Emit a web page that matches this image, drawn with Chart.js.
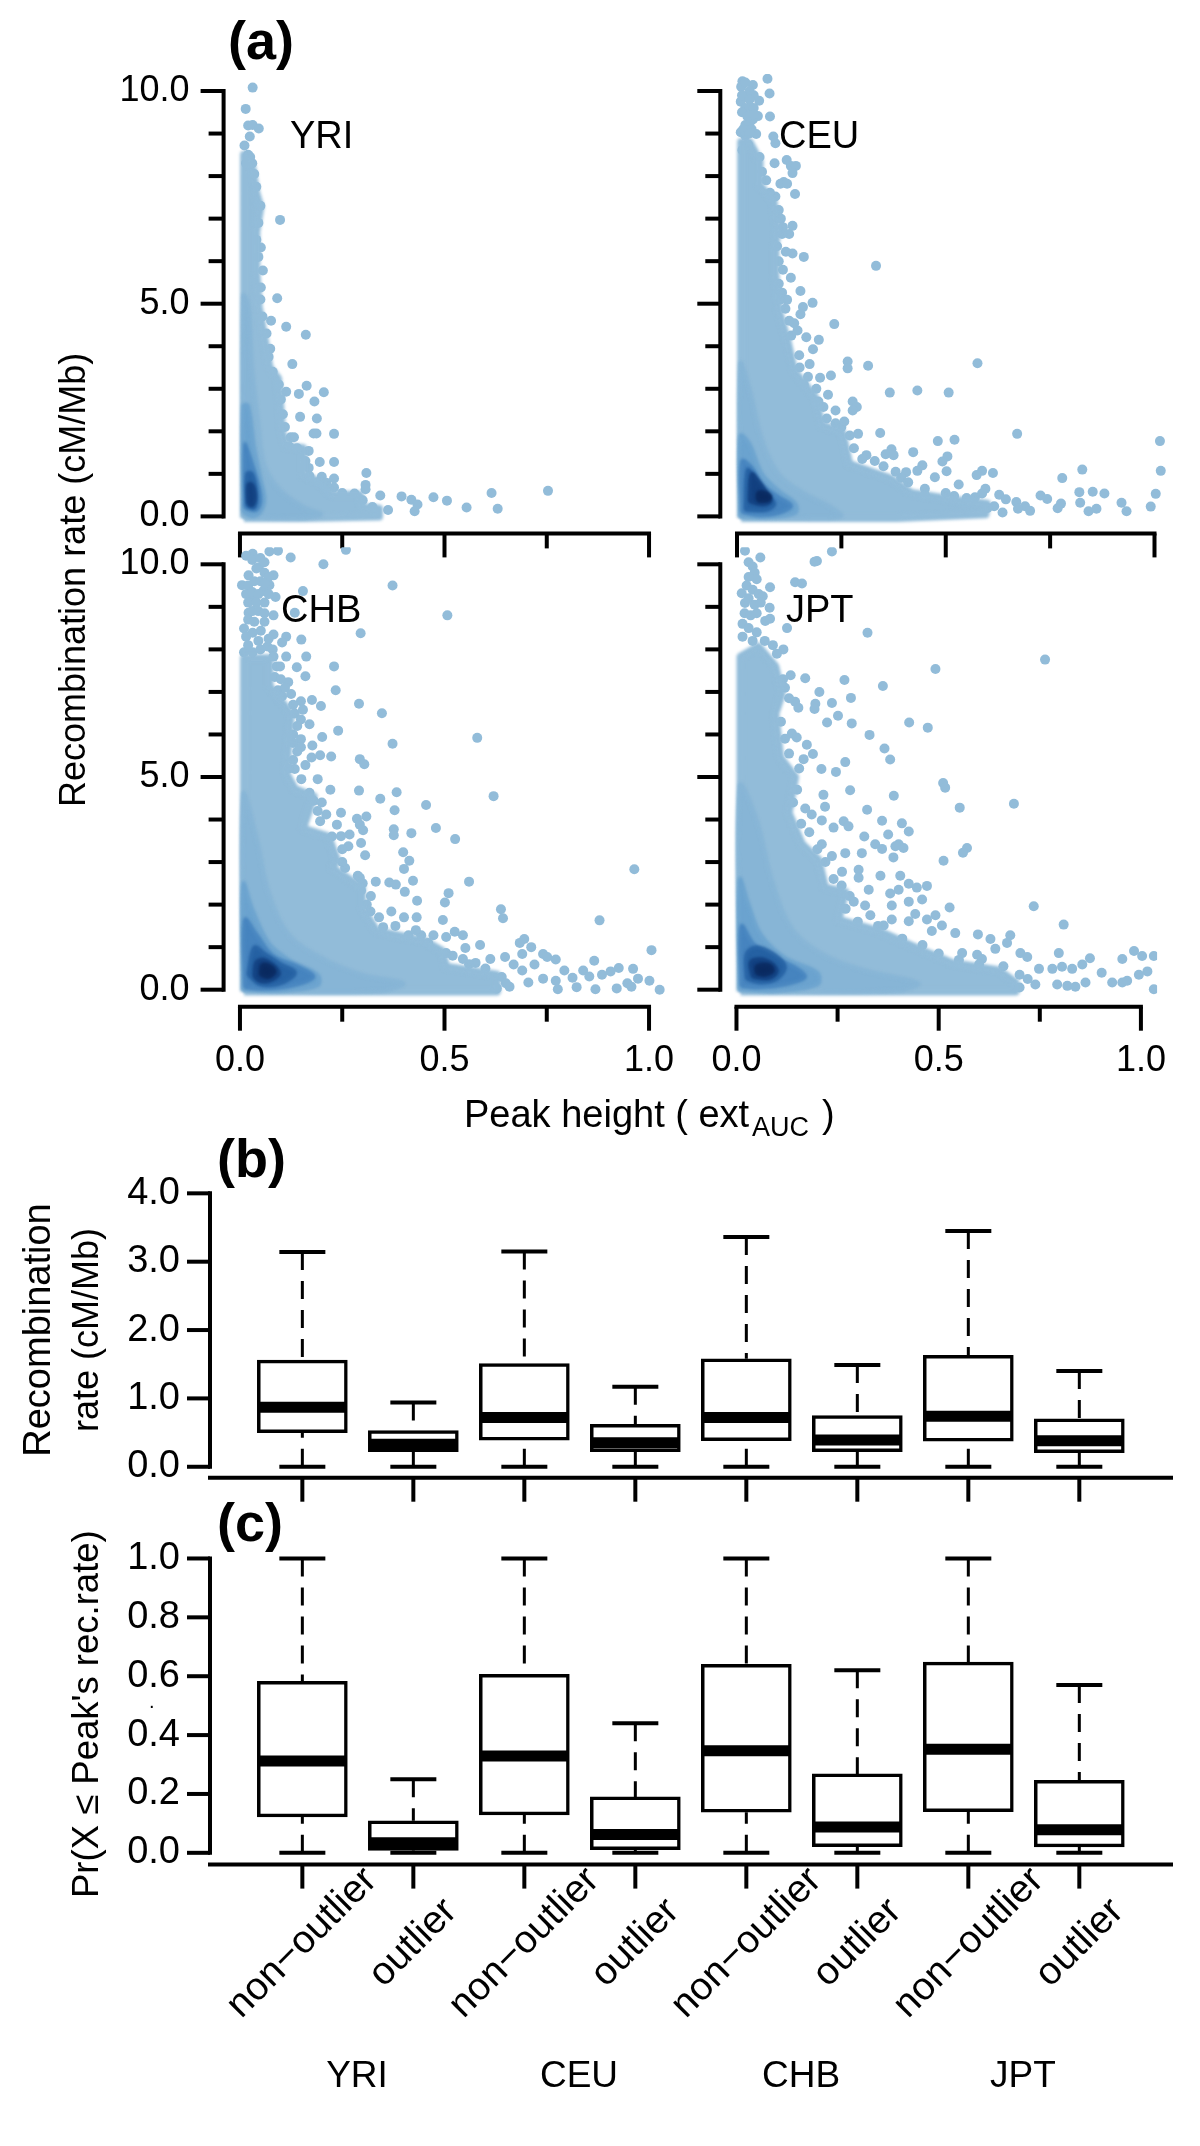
<!DOCTYPE html>
<html>
<head>
<meta charset="utf-8">
<script src="https://cdn.jsdelivr.net/npm/chart.js@4/dist/chart.umd.min.js"></script>
<style>
html, body { margin: 0; padding: 0; background: #fff; }
#wrap { position: relative; width: 1200px; height: 2146px; overflow: hidden; filter: blur(0.4px); }
canvas { position: absolute; left: 0; top: 0; }
</style>
</head>
<body>
<div id="wrap"></div>
<script>
const populations = ['YRI', 'CEU', 'CHB', 'JPT'];

// Panel (a) axes
const rateTicks = [0, 1, 2, 3, 4, 5, 6, 7, 8, 9, 10];
const rateLabels = [0, 5, 10];
const peakTicks = [0, 0.25, 0.5, 0.75, 1];
const peakLabels = [0, 0.5, 1];

// Scattered peaks: [peak height, recombination rate]
const yriPeaks = [[.031,10.08],[.014,9.58],[.02,9.19],[.031,9.2],[.046,9.12],[.024,8.93],[.011,8.72],[.098,6.97],[.051,6.32],[.056,5.78],[.051,5.38],[.091,5.13],[.076,4.6],[.113,4.46],[.161,4.27],[.074,3.94],[.128,3.58],[.163,3.07],[.144,2.88],[.205,2.92],[.113,2.93],[.182,2.7],[.147,2.34],[.188,2.3],[.18,1.95],[.187,1.95],[.23,1.94],[.124,1.86],[.132,1.86],[.168,1.54],[.195,1.28],[.23,1.28],[.168,1.14],[.309,1.02],[.2,.93],[.2,.79],[.211,.79],[.23,.89],[.23,.68],[.307,.74],[.307,.64],[.343,.49],[.395,.47],[.419,.39],[.434,.28],[.427,.12],[.473,.45],[.506,.37],[.554,.21],[.615,.55],[.63,.18],[.753,.6],[.324,.22],[.329,.09],[.362,.15],[.02,8.5],[.03,8.3],[.035,8.05],[.04,7.75],[.05,7.3],[.045,6.9],[.015,8.3],[.025,8.45],[.036,7.4],[.04,6.5],[.045,6.1],[.05,5.1],[.055,4.7],[.065,4.3],[.07,3.75],[.08,3.4],[.095,3.1],[.1,2.75],[.105,2.4],[.11,2.1],[.12,1.65],[.14,1.6],[.16,1.3],[.17,.95],[.19,.8],[.21,.62],[.25,.55],[.28,.54],[.3,.38]];
const ceuPeaks = [[.078,9.94],[.073,10.29],[.013,10.23],[.038,10.14],[.021,9.87],[.009,9.75],[.031,9.62],[.053,9.77],[.079,9.4],[.05,9.41],[.038,9.33],[.03,9.24],[.009,9.03],[.046,8.99],[.087,8.93],[.092,8.77],[.026,8.74],[.013,8.61],[.09,8.3],[.119,8.38],[.129,8.24],[.141,8.24],[.133,8.07],[.054,8.45],[.112,7.86],[.104,7.82],[.12,7.82],[.139,7.58],[.092,7.52],[.079,7.61],[.133,6.83],[.125,6.64],[.108,6.64],[.096,6.35],[.133,6.18],[.117,6.22],[.16,6.1],[.333,5.89],[.129,5.61],[.1,5.47],[.108,5.26],[.12,5.09],[.152,5.3],[.181,5.02],[.116,4.88],[.158,4.92],[.152,4.75],[.233,4.52],[.137,4.54],[.145,4.37],[.166,4.21],[.196,4.15],[.182,3.93],[.149,3.79],[.174,3.58],[.265,3.64],[.265,3.48],[.314,3.54],[.576,3.6],[.17,3.28],[.199,3.26],[.225,3.31],[.366,2.91],[.432,2.96],[.507,2.91],[.218,2.86],[.207,2.57],[.236,2.49],[.277,2.7],[.287,2.57],[.277,2.49],[.236,2.19],[.257,2.23],[.29,1.94],[.343,1.96],[.671,1.94],[1.013,1.77],[.481,1.77],[.521,1.8],[.37,1.58],[.356,1.46],[.375,1.44],[.31,1.44],[.422,1.51],[.504,1.41],[.492,1.29],[.351,1.18],[.444,1.2],[.432,1.07],[.405,1.04],[.393,.91],[.502,1.06],[.474,.92],[1.015,1.07],[.587,1.07],[.574,.97],[.613,1.02],[.827,1.1],[.779,.9],[.531,.75],[.595,.65],[.587,.54],[.628,.51],[.644,.4],[.669,.34],[.69,.24],[.702,.13],[.727,.49],[.743,.41],[.82,.57],[.852,.58],[.88,.54],[.822,.32],[.776,.3],[.768,.19],[.842,.12],[.861,.18],[.921,.32],[.933,.12],[1.003,.53],[.991,.23],[.616,.24],[.636,.09],[.673,.18],[.55,.43],[.5,.55],[.45,.65],
  [.01,10.1],[.02,10.2],[.03,10],[.04,9.9],[.012,9.9],[.02,9.6],[.012,9.5],[.03,9.8],[.04,9.6],[.025,9.4],[.04,9.45],[.02,9.2],[.015,9.1],[.035,9.1],[.02,8.95],[.03,9],[.06,8.1],[.07,7.9],[.08,7.5],[.1,7.2],[.105,7],[.11,6.8],[.1,6],[.11,5.8],[.105,5.1],[.125,4.6],[.13,4.25],[.15,3.5],[.16,3.1],[.19,3],[.195,2.7],[.215,2.3],[.25,2.1],[.27,1.9],[.28,1.6],[.3,1.35],[.33,1.3],[.38,1.05],[.41,.8],[.45,.5],[.52,.48],[.57,.45],[.6,.2]];
const chbPeaks = [[.124,10.16],[.204,10],[.259,10.34],[.373,9.5],[.507,8.8],[.295,8.38],[.15,8.23],[.113,8.3],[.103,8.16],[.134,8.86],[.154,9.37],[.082,9.74],[.072,9.51],[.087,9.23],[.031,10.25],[.072,10.3],[.093,10.32],[.046,9.93],[.005,9.51],[.021,9.74],[.031,9.18],[.057,9.37],[.021,8.86],[.082,8.8],[.051,8.44],[.082,8.35],[.031,8.39],[.01,8.49],[.067,8.07],[.031,7.93],[.01,7.93],[.162,7.83],[.113,7.83],[.082,7.83],[.098,7.6],[.139,7.58],[.23,7.6],[.16,7.37],[.118,7.23],[.234,7.04],[.093,7.04],[.103,6.9],[.149,6.78],[.176,6.81],[.198,6.67],[.291,6.72],[.347,6.5],[.134,6.49],[.154,6.58],[.149,6.35],[.17,6.24],[.24,6.09],[.201,5.94],[.58,5.92],[.149,5.89],[.177,5.74],[.149,5.7],[.373,5.78],[.223,5.48],[.175,5.46],[.196,5.51],[.293,5.42],[.304,5.3],[.134,5.19],[.16,5.28],[.19,4.95],[.221,4.7],[.291,4.68],[.383,4.64],[.62,4.55],[.343,4.49],[.17,4.63],[.18,4.44],[.455,4.34],[.378,4.22],[.247,4.16],[.309,4.07],[.286,4.02],[.293,3.88],[.211,4.12],[.196,3.96],[.237,3.88],[.268,3.65],[.247,3.61],[.376,3.77],[.376,3.63],[.419,3.68],[.479,3.8],[.301,3.75],[.526,3.54],[.265,3.37],[.296,3.45],[.399,3.23],[.414,3.03],[.401,2.84],[.306,3.16],[.964,2.83],[.257,2.86],[.288,2.68],[.293,2.63],[.332,2.54],[.365,2.52],[.381,2.47],[.423,2.56],[.56,2.54],[.403,2.3],[.296,2.33],[.51,2.27],[.433,2.09],[.501,2.05],[.638,1.89],[.643,1.68],[.879,1.63],[.496,1.64],[.319,1.84],[.37,1.84],[.401,1.7],[.432,1.7],[.35,1.47],[.412,1.28],[.443,1.28],[.473,1.28],[.504,1.24],[.545,1.28],[.525,1.36],[.551,.98],[.504,.86],[.587,1.05],[.695,1.19],[.684,1.1],[.712,1],[1.006,.93],[.69,.84],[.741,.84],[.751,.77],[.772,.71],[.866,.68],[.648,.77],[.612,.72],[.545,.72],[.576,.63],[.669,.59],[.72,.59],[.69,.45],[.793,.45],[.839,.45],[.926,.51],[.961,.49],[.741,.26],[.772,.21],[.813,.28],[.854,.31],[.885,.35],[.906,.43],[.973,.26],[1.001,.21],[.947,.15],[.777,.01],[.823,.06],[.869,.01],[.921,.03],[.957,.07],[.705,.17],[.659,.07],[.628,.03],[.607,.07],[1.026,0],
  [.015,10.2],[.03,10.1],[.05,10.15],[.06,10.05],[.04,9.9],[.06,9.8],[.07,9.7],[.02,9.5],[.035,9.6],[.05,9.6],[.06,9.55],[.015,9.3],[.03,9.35],[.045,9.3],[.07,9.3],[.02,9.1],[.04,9.1],[.06,9.1],[.03,8.9],[.045,8.9],[.06,8.85],[.02,8.7],[.035,8.65],[.06,8.65],[.015,8.3],[.045,8.2],[.07,8.25],[.02,8.1],[.05,8],[.08,8],[.09,7.6],[.085,7.35],[.1,7.3],[.11,7.1],[.125,6.95],[.13,6.7],[.14,6.2],[.13,6],[.13,5.8],[.14,5.6],[.13,5.4],[.12,5.2],[.15,4.95],[.2,4.4],[.19,4.2],[.225,3.6],[.25,3.3],[.25,3],[.3,2.5],[.32,2.2],[.31,2],[.34,1.7],[.38,1.5],[.43,1.4],[.46,1.1],[.52,.8],[.56,.6],[.6,.5],[.64,.3],[.65,.15]];
const jptPeaks = [[.236,10.3],[.199,10.08],[.193,10.06],[.059,10.16],[.021,10.32],[.145,9.58],[.162,9.55],[.083,9.46],[.013,9.32],[.021,9.09],[.082,8.98],[.071,8.67],[.083,8.72],[.125,8.5],[.324,8.39],[.763,7.76],[.492,7.54],[.116,8],[.17,7.32],[.134,7.39],[.267,7.28],[.362,7.14],[.205,7],[.283,6.86],[.145,6.77],[.153,6.63],[.236,6.74],[.195,6.72],[.193,6.6],[.251,6.44],[.224,6.28],[.285,6.26],[.427,6.28],[.473,6.16],[.329,5.99],[.137,6.02],[.149,5.93],[.174,5.76],[.366,5.67],[.38,5.41],[.189,5.54],[.166,5.42],[.21,5.19],[.269,5.35],[.246,5.12],[.511,4.86],[.516,4.75],[.281,4.69],[.389,4.56],[.552,4.28],[.686,4.37],[.215,4.58],[.219,4.3],[.17,4.26],[.186,4.12],[.323,4.23],[.36,3.97],[.409,3.91],[.426,3.72],[.265,3.96],[.24,3.81],[.211,3.98],[.277,3.84],[.316,3.6],[.375,3.65],[.343,3.42],[.36,3.31],[.401,3.42],[.413,3.33],[.393,3.37],[.57,3.33],[.56,3.22],[.31,3.21],[.388,3.11],[.512,3.03],[.211,3.42],[.269,3.21],[.236,3.14],[.302,2.82],[.261,2.77],[.302,2.63],[.356,2.68],[.405,2.68],[.426,2.49],[.471,2.44],[.446,2.4],[.38,2.26],[.401,2.35],[.327,2.35],[.735,1.96],[.527,1.93],[.459,2.12],[.426,2.07],[.384,1.98],[.29,2.07],[.318,1.98],[.492,1.75],[.442,1.78],[.331,1.75],[.809,1.53],[.364,1.51],[.384,1.65],[.426,1.61],[.471,1.65],[.508,1.51],[.483,1.38],[.541,1.33],[.597,1.3],[.677,1.28],[.628,1.19],[.64,.96],[.669,1.1],[.797,.86],[.983,.91],[1.003,.79],[1.032,.79],[.954,.72],[1.016,.43],[.995,.35],[.874,.74],[.855,.59],[.903,.4],[.702,.86],[.719,.77],[.748,.49],[.781,.49],[.805,.54],[.83,.49],[.929,.17],[.954,.17],[.966,.21],[.863,.17],[.838,.07],[.818,.09],[.793,.12],[.739,.12],[.558,.86],[.595,.82],[.541,.54],[.607,.72],[1.032,.01],
  [.03,10.05],[.04,9.95],[.045,9.8],[.05,9.65],[.03,9.7],[.025,9.5],[.04,9.4],[.055,9.3],[.065,9.25],[.03,9.2],[.045,9.05],[.06,9.1],[.02,8.85],[.035,8.8],[.05,8.85],[.015,8.6],[.03,8.5],[.05,8.4],[.07,8.2],[.09,8.1],[.1,7.9],[.015,8.3],[.04,8.2],[.115,7.3],[.12,7.1],[.13,6.85],[.11,6.3],[.12,5.9],[.13,5.55],[.155,5.2],[.15,4.7],[.14,4.4],[.16,3.9],[.18,3.7],[.2,3.3],[.22,3],[.24,2.6],[.26,2.45],[.28,2.2],[.27,1.9],[.3,1.6],[.35,1.5],[.41,1.2],[.46,1.05],[.5,.85],[.55,.7],[.6,.6],[.66,.55],[.7,.35],[.72,.25],[.7,.05]];

// Density regions, lightest first
const yriCloud = [
  [[.01,-.04],[.01,8.5],[.03,8.2],[.04,7.6],[.05,7.27],[.04,6.7],[.04,5.76],[.046,4.92],[.062,4.08],[.072,3.5],[.093,3.24],[.098,2.65],[.103,1.98],[.113,1.65],[.154,1.6],[.154,.97],[.185,.85],[.226,.51],[.293,.51],[.298,.22],[.34,.18],[.34,0],[.154,-.04]],
  [[.008,-.02],[.008,5.2],[.02,5],[.03,3.5],[.045,2.2],[.06,1.2],[.1,.6],[.16,.2],[.2,.05],[.16,-.03]],
  [[.008,.1],[.008,2.6],[.02,2.6],[.035,1.6],[.05,.9],[.06,.4],[.05,.1],[.03,0]],
  [[.012,.2],[.012,1.7],[.02,1.5],[.04,.9],[.05,.4],[.04,.15]],
  [[.017,.25],[.017,1],[.03,1],[.04,.5],[.035,.2]],
  [[.02,.3],[.02,.75],[.03,.75],[.037,.45],[.03,.25]]
];
const ceuCloud = [
  [[.01,-.04],[.01,8.8],[.03,8.8],[.054,8.36],[.054,7.78],[.087,7.44],[.096,6.77],[.092,6.26],[.092,5.68],[.1,4.84],[.12,4.16],[.137,3.41],[.186,2.82],[.203,2.15],[.252,1.98],[.269,1.23],[.368,.89],[.417,.55],[.517,.39],[.599,.3],[.595,.05],[.384,-.04]],
  [[.008,-.02],[.008,3.6],[.03,3],[.06,1.8],[.1,1],[.16,.55],[.22,.25],[.25,0],[.15,-.03]],
  [[.008,0],[.008,1.9],[.03,1.7],[.06,1],[.1,.6],[.14,.3],[.14,.08],[.08,-.02]],
  [[.012,.1],[.012,1.3],[.035,1.15],[.06,.75],[.1,.45],[.13,.25],[.1,.08],[.05,.03]],
  [[.02,.15],[.025,1.1],[.04,.95],[.065,.55],[.09,.3],[.07,.15]],
  [[.03,.35],[.035,1],[.05,.85],[.075,.5],[.08,.35],[.06,.28]],
  [[.05,.36],[.05,.55],[.065,.56],[.08,.47],[.075,.38]]
];
const chbCloud = [
  [[.01,-.04],[.01,7.79],[.072,7.79],[.072,7.14],[.124,6.49],[.113,5.09],[.134,4.72],[.18,4.54],[.154,3.79],[.216,3.6],[.237,3.05],[.226,2.86],[.298,2.4],[.298,1.93],[.334,1.38],[.453,1.14],[.494,.91],[.504,.54],[.628,.35],[.628,-.04]],
  [[.008,-.02],[.008,4.6],[.04,3.6],[.07,2.3],[.12,1.3],[.2,.75],[.3,.35],[.4,.15],[.35,-.03]],
  [[.008,0],[.008,2.5],[.03,1.9],[.07,1.1],[.12,.7],[.19,.35],[.19,.1],[.1,-.03]],
  [[.012,.05],[.012,1.65],[.04,1.3],[.08,.8],[.14,.55],[.18,.3],[.13,.1],[.06,.02]],
  [[.02,.35],[.035,1],[.06,.85],[.1,.6],[.135,.4],[.1,.15],[.05,.12]],
  [[.035,.3],[.04,.65],[.06,.7],[.09,.5],[.095,.35],[.07,.2],[.05,.2]],
  [[.05,.35],[.055,.58],[.075,.55],[.085,.42],[.07,.3]]
];
const jptCloud = [
  [[.01,-.04],[.01,7.83],[.054,8.07],[.096,7.6],[.112,6.95],[.096,6.49],[.108,5.46],[.145,5],[.129,4.16],[.162,3.42],[.203,3.05],[.219,2.4],[.269,2.3],[.252,1.65],[.351,1.38],[.45,.96],[.533,.63],[.649,.45],[.69,.17],[.69,-.04]],
  [[.008,-.02],[.008,4.8],[.05,4],[.09,2.5],[.14,1.4],[.22,.8],[.32,.45],[.45,.15],[.4,-.03]],
  [[.008,0],[.008,2.6],[.03,2],[.06,1.3],[.12,.75],[.2,.4],[.2,.12],[.1,-.03]],
  [[.012,.08],[.012,1.5],[.04,1.1],[.08,.8],[.14,.55],[.17,.3],[.12,.12],[.05,.05]],
  [[.025,.25],[.025,.85],[.05,1],[.09,.85],[.12,.55],[.1,.25],[.06,.17]],
  [[.04,.3],[.035,.65],[.06,.72],[.09,.6],[.1,.42],[.08,.27]],
  [[.05,.38],[.05,.55],[.08,.58],[.09,.45],[.07,.35]]
];
const cloudColors = ['#92bcd9', '#87b5d6', '#6ba3cf', '#4684bf', '#2561a3', '#124080', '#0a2a60'];

// Panels (b) and (c)
const boxPositions = [1, 2, 3, 4, 5, 6, 7, 8];
const sampleLabels = ['non\u2212outlier', 'outlier', 'non\u2212outlier', 'outlier', 'non\u2212outlier', 'outlier', 'non\u2212outlier', 'outlier'];
const rateBoxTicks = [0, 1, 2, 3, 4];
const rateHigh = [3.14, 0.94, 3.15, 1.17, 3.36, 1.49, 3.45, 1.4];
const rateQ3 = [1.56, 0.53, 1.51, 0.62, 1.58, 0.75, 1.63, 0.7];
const rateMedian = [0.87, 0.33, 0.72, 0.35, 0.72, 0.39, 0.74, 0.38];
const rateQ1 = [0.5, 0.22, 0.39, 0.22, 0.38, 0.22, 0.375, 0.205];
const rateLow = [0, 0, 0, 0, 0, 0, 0, 0];
const probBoxTicks = [0, 0.2, 0.4, 0.6, 0.8, 1];
const probHigh = [1, 0.25, 1, 0.44, 1, 0.62, 1, 0.57];
const probQ3 = [0.583, 0.109, 0.606, 0.19, 0.64, 0.268, 0.648, 0.246];
const probMedian = [0.312, 0.034, 0.329, 0.062, 0.347, 0.088, 0.352, 0.078];
const probQ1 = [0.122, 0.008, 0.129, 0.011, 0.138, 0.021, 0.14, 0.02];
const probLow = [0, 0, 0, 0, 0, 0, 0, 0];

const FONT = '"Liberation Sans", Arial, sans-serif';
const PAGE_W = 1200, PAGE_H = 2146;
const Y_AXIS_W = 120, X_AXIS_H = 70;

function addCanvas() {
    const c = document.createElement('canvas');
    c.width = PAGE_W;
    c.height = PAGE_H;
    c.style.width = PAGE_W + 'px';
    c.style.height = PAGE_H + 'px';
    document.getElementById('wrap').appendChild(c);
    return c;
}

function line(ctx, x1, y1, x2, y2) {
    ctx.beginPath();
    ctx.moveTo(x1, y1);
    ctx.lineTo(x2, y2);
    ctx.stroke();
}

// R style axes: lines only between the ticks, long ticks for the labelled values
function axesPlugin(cfg) {
    return {
        id: 'rAxes',
        afterDraw(chart) {
            const ctx = chart.ctx, a = chart.chartArea, xs = chart.scales.x, ys = chart.scales.y;
            ctx.save();
            ctx.strokeStyle = '#000';
            ctx.lineWidth = 4;
            ctx.lineCap = 'square';
            const yt = cfg.yTicks.map(v => ys.getPixelForValue(v));
            line(ctx, a.left, Math.min(...yt), a.left, Math.max(...yt));
            const xt = cfg.xTicks.map(v => xs.getPixelForValue(v));
            if (cfg.fullBottom) line(ctx, a.left, a.bottom, a.right, a.bottom);
            else line(ctx, Math.min(...xt), a.bottom, Math.max(...xt), a.bottom);
            ctx.lineCap = 'butt';
            cfg.yTicks.forEach((v, i) => {
                const len = cfg.yMajor.includes(v) ? 23 : 15;
                line(ctx, a.left, yt[i], a.left - len, yt[i]);
            });
            cfg.xTicks.forEach((v, i) => {
                const len = cfg.xMajor.includes(v) ? 24 : 15;
                line(ctx, xt[i], a.bottom, xt[i], a.bottom + len);
            });
            ctx.restore();
        }
    };
}

// Free text of the figure, in page pixels
function textPlugin(items) {
    return {
        id: 'figText',
        afterDraw(chart) {
            const ctx = chart.ctx;
            ctx.save();
            ctx.fillStyle = '#000';
            items.forEach(t => {
                ctx.save();
                ctx.translate(t.x, t.y);
                if (t.rot) ctx.rotate(t.rot * Math.PI / 180);
                ctx.font = (t.bold ? 'bold ' : '') + t.size + 'px ' + FONT;
                ctx.textAlign = t.align || 'left';
                ctx.textBaseline = t.base || 'alphabetic';
                ctx.fillText(t.text, 0, 0);
                ctx.restore();
            });
            ctx.restore();
        }
    };
}

// Soft edges for the density regions, the peaks stay as they are
const softCloud = {
    id: 'softCloud',
    afterDatasetDraw(chart, args) {
        if (args.index === chart.data.datasets.length - 1) chart.ctx.filter = 'blur(1.6px)';
    },
    afterDatasetsDraw(chart) {
        chart.ctx.filter = 'none';
    }
};

function scaleOptions(min, max, ticks, isX, show, padding, size, fmt) {
    return {
        type: 'linear',
        min: min,
        max: max,
        offset: false,
        afterBuildTicks: s => { s.ticks = ticks.map(v => ({ value: v })); },
        afterFit: s => { if (isX) s.height = X_AXIS_H; else s.width = Y_AXIS_W; },
        grid: { display: false, drawTicks: false, offset: false },
        border: { display: false },
        ticks: {
            display: show,
            autoSkip: false,
            maxRotation: 0,
            minRotation: 0,
            padding: padding,
            color: '#000',
            font: { family: FONT, size: size },
            callback: fmt
        }
    };
}

function panelLayout(box) {
    return {
        autoPadding: false,
        padding: {
            left: box.left - Y_AXIS_W,
            top: box.top,
            right: PAGE_W - box.right,
            bottom: PAGE_H - box.bottom - X_AXIS_H
        }
    };
}

// Scatter panel: density regions as closed filled lines, single peaks under them
function drawScatter(box, peaks, cloud, showX, showY, texts) {
    const datasets = cloud.map((shape, i) => {
        const closed = shape.concat([shape[0]]);
        return {
            data: closed.map(p => ({ x: p[0], y: p[1] })),
            showLine: true,
            fill: 'shape',
            backgroundColor: cloudColors[i],
            borderColor: cloudColors[i],
            borderWidth: i === 0 ? 8 : 3,
            borderJoinStyle: 'round',
            tension: i === 0 ? 0 : 0.35,
            pointRadius: 0,
            order: cloud.length - i
        };
    });
    datasets.push({
        data: peaks.map(p => ({ x: p[0], y: p[1] })),
        pointRadius: 5,
        pointBorderWidth: 0,
        pointBackgroundColor: cloudColors[0],
        order: cloud.length + 1
    });
    return new Chart(addCanvas(), {
        type: 'scatter',
        data: { datasets: datasets },
        options: {
            responsive: false,
            animation: false,
            events: [],
            devicePixelRatio: 1,
            layout: panelLayout(box),
            plugins: { legend: { display: false }, tooltip: { enabled: false } },
            scales: {
                x: scaleOptions(-0.04, 1.04, peakTicks, true, showX, 33, 36, v => peakLabels.includes(v) ? v.toFixed(1) : ''),
                y: scaleOptions(-0.4, 10.4, rateTicks, false, showY, 34, 36, v => rateLabels.includes(v) ? v.toFixed(1) : '')
            }
        },
        plugins: [softCloud, axesPlugin({ xTicks: peakTicks, yTicks: rateTicks, xMajor: peakLabels, yMajor: rateLabels }), textPlugin(texts)]
    });
}

// Dashed whiskers behind the boxes
function whiskerPlugin(high, q3, q1, low) {
    return {
        id: 'whiskers',
        beforeDatasetsDraw(chart) {
            const ctx = chart.ctx, xs = chart.scales.x, ys = chart.scales.y;
            ctx.save();
            ctx.strokeStyle = '#000';
            ctx.lineWidth = 3;
            ctx.setLineDash([18, 11]);
            boxPositions.forEach((p, i) => {
                const x = xs.getPixelForValue(p);
                line(ctx, x, ys.getPixelForValue(high[i]), x, ys.getPixelForValue(q3[i]));
                line(ctx, x, ys.getPixelForValue(low[i]), x, ys.getPixelForValue(q1[i]));
            });
            ctx.restore();
        }
    };
}

function drawBoxes(box, yMin, yMax, yTicks, high, q3, median, q1, low, texts) {
    const pts = arr => boxPositions.map((p, i) => ({ x: p, y: arr[i] }));
    const mark = (arr, radius, width, order) => ({
        type: 'scatter',
        data: pts(arr),
        pointStyle: 'line',
        pointRadius: radius,
        pointBorderWidth: width,
        pointBorderColor: '#000',
        order: order
    });
    return new Chart(addCanvas(), {
        type: 'bar',
        data: {
            datasets: [
                mark(median, 43, 11, 0),
                mark(high, 23, 4, 1),
                mark(low, 23, 4, 1),
                {
                    type: 'bar',
                    data: boxPositions.map((p, i) => ({ x: p, y: [q1[i], q3[i]] })),
                    backgroundColor: '#fff',
                    borderColor: '#000',
                    borderWidth: 3.5,
                    borderSkipped: false,
                    barThickness: 90,
                    order: 2
                }
            ]
        },
        options: {
            responsive: false,
            animation: false,
            events: [],
            devicePixelRatio: 1,
            layout: panelLayout(box),
            plugins: { legend: { display: false }, tooltip: { enabled: false } },
            scales: {
                x: scaleOptions(0.168, 8.826, boxPositions, true, false, 0, 36, () => ''),
                y: scaleOptions(yMin, yMax, yTicks, false, true, 30, 38, v => v.toFixed(1))
            }
        },
        plugins: [
            whiskerPlugin(high, q3, q1, low),
            axesPlugin({ xTicks: boxPositions, yTicks: yTicks, xMajor: boxPositions, yMajor: yTicks, fullBottom: true }),
            textPlugin(texts)
        ]
    });
}

const tickX = boxPositions.map(p => 302.3 + (p - 1) * 111.1);

// Panel (a)
drawScatter({ left: 223.6, right: 665.4, top: 74, bottom: 533.4 }, yriPeaks, yriCloud, false, true, [
    { text: '(a)', x: 228, y: 59, size: 54, bold: true },
    { text: populations[0], x: 290, y: 148, size: 38 },
    { text: 'Recombination rate (cM/Mb)', x: 85, y: 807, size: 36, rot: -90 }
]);
drawScatter({ left: 720.3, right: 1171.2, top: 74, bottom: 533.4 }, ceuPeaks, ceuCloud, false, false, [
    { text: populations[1], x: 779, y: 148, size: 38 }
]);
drawScatter({ left: 223.6, right: 665.4, top: 547.3, bottom: 1006.7 }, chbPeaks, chbCloud, true, true, [
    { text: populations[2], x: 281, y: 622, size: 38 }
]);
drawScatter({ left: 720.3, right: 1171.2, top: 547.3, bottom: 1006.7 }, jptPeaks, jptCloud, true, false, [
    { text: populations[3], x: 786, y: 622, size: 38 },
    { text: 'Peak height ( ext', x: 464, y: 1127, size: 38 },
    { text: 'AUC', x: 752, y: 1136, size: 27 },
    { text: ')', x: 822, y: 1127, size: 38 }
]);

// Panel (b)
drawBoxes({ left: 210, right: 1171, top: 1182.4, bottom: 1477.7 }, -0.16, 4.16, rateBoxTicks, rateHigh, rateQ3, rateMedian, rateQ1, rateLow, [
    { text: '(b)', x: 217, y: 1177, size: 54, bold: true },
    { text: 'Recombination', x: 50, y: 1330, size: 38, rot: -90, align: 'center' },
    { text: 'rate (cM/Mb)', x: 98, y: 1330, size: 36, rot: -90, align: 'center' }
]);

// Panel (c)
drawBoxes({ left: 210, right: 1171, top: 1546.7, bottom: 1864.6 }, -0.04, 1.04, probBoxTicks, probHigh, probQ3, probMedian, probQ1, probLow, [
    { text: '(c)', x: 217, y: 1541, size: 54, bold: true },
    { text: 'Pr(X \u2264 Peak\'s rec.rate)', x: 98, y: 1898, size: 36.5, rot: -90 },
    { text: '.', x: 149, y: 1708, size: 20 }
].concat(sampleLabels.map((s, i) => ({
    text: s, x: tickX[i], y: 1943, size: 39, rot: -45, align: 'center', base: 'middle'
}))).concat(populations.map((s, i) => ({
    text: s, x: 357 + i * 222, y: 2087, size: 37, align: 'center'
}))));
</script>
</body>
</html>
